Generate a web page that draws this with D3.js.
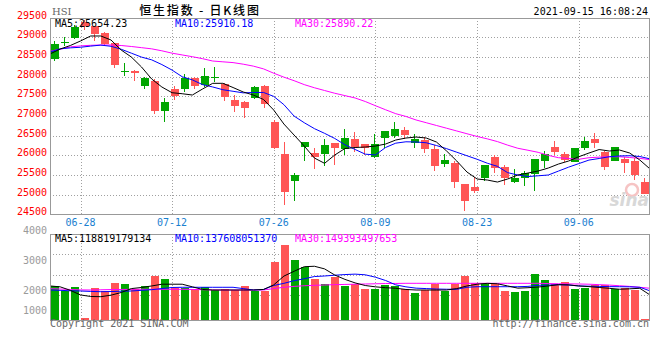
<!DOCTYPE html>
<html><head><meta charset="utf-8">
<script src="https://cdn.jsdelivr.net/npm/d3@7"></script>
<style>
body{margin:0;background:#fff}
svg{display:block}
text{font-family:"DejaVu Sans Mono",monospace;font-size:10px}
</style></head>
<body><svg id="c" width="660" height="360"></svg>
<script>
// ---------- data ----------
const dates = ["06-23","06-24","06-25","06-28","06-29","06-30","07-02","07-05","07-06","07-07","07-08","07-09","07-12","07-13","07-14","07-15","07-16","07-19","07-20","07-21","07-22","07-23","07-26","07-27","07-28","07-29","07-30","08-02","08-03","08-04","08-05","08-06","08-09","08-10","08-11","08-12","08-13","08-16","08-17","08-18","08-19","08-20","08-23","08-24","08-25","08-26","08-27","08-30","08-31","09-01","09-02","09-03","09-06","09-07","09-08","09-09","09-10","09-13","09-14","09-15"];
const open  = [28464,28885,28994,29400,29291,29106,28851,28120,28154,27764,27899,27136,27688,27688,27960,27790,27995,27808,27408,27365,27467,27764,26856,26034,25354,26220,26067,26034,26314,26161,26415,26288,25965,26449,26500,26644,26306,26390,26161,25780,25805,25270,25202,25431,25957,25703,25329,25415,25532,25863,26212,26026,25838,26194,26415,26092,25863,25907,25856,25329];
const high  = [28910,29005,29320,29450,29300,29130,28870,28342,28180,28000,27950,27451,27764,28062,28000,28215,28240,27830,27535,27383,27774,27780,26898,26347,25550,26345,26179,26415,26320,26670,26601,26295,26543,26625,26856,26721,26543,26475,26263,26026,25863,25275,25448,25760,26008,25750,25652,25609,25910,26110,26365,26077,26190,26466,26576,26110,26210,25950,25924,25431];
const low   = [28400,28770,28960,29190,28917,28800,28230,28019,27899,27688,27060,26856,27408,27604,27690,27747,27874,27383,27110,26958,27442,27197,26169,24736,24845,25863,25644,25736,25754,26008,26092,26008,25924,26179,26449,26415,26194,26051,25601,25711,25176,24591,25049,25354,25558,25245,25303,25227,25100,25685,26008,25822,25830,26136,26179,25627,25850,25558,25372,25010];
const close = [28831,28895,29273,29290,29080,28826,28299,28135,28087,27976,27136,27349,27510,27960,27764,28019,28005,27492,27263,27212,27747,27299,26194,25074,25499,26339,25965,26263,26194,26433,26220,26179,26288,26619,26670,26517,26415,26161,25728,25881,25329,24845,25100,25754,25685,25415,25431,25542,25907,26026,26092,25881,26179,26365,26322,25711,26204,25813,25499,25016];
const ma5  = [28578,28706,28795,28910,29037,29037,28935,28680,28502,28248,27942,27739,27594,27568,27535,27688,27833,27833,27726,27612,27535,27421,27153,26797,26517,26237,25932,25797,26008,26174,26199,26212,26237,26288,26390,26441,26466,26441,26339,26110,25856,25576,25398,25372,25321,25398,25499,25550,25601,25677,25779,25856,25965,26059,26148,26110,26136,26059,25881,25654];
const ma10 = [28630,28710,28735,28750,28780,28805,28775,28700,28600,28500,28430,28310,28170,28000,27920,27800,27740,27670,27630,27590,27600,27600,27500,27290,27000,26830,26680,26560,26430,26270,26150,26030,26010,26200,26310,26345,26340,26320,26250,26170,26080,25990,25900,25800,25720,25560,25500,25460,25480,25500,25600,25700,25790,25880,25920,25965,25985,25990,25970,25910];
const ma30 = [28650,28700,28760,28785,28800,28808,28808,28795,28770,28740,28710,28660,28600,28555,28510,28460,28400,28380,28360,28320,28270,28200,28090,27990,27900,27800,27720,27650,27580,27520,27460,27370,27263,27160,27060,26990,26900,26830,26760,26690,26620,26550,26480,26420,26350,26260,26180,26130,26077,26000,25940,25920,25900,25940,25955,25965,25965,25945,25924,25890];
// volume, 1e8
const volume = [1598,1383,1539,123,1507,1383,1749,1689,1447,1598,2055,1918,1507,1507,1447,1539,1415,1461,1415,1598,1383,1383,2694,3470,2785,2479,1918,1689,2009,1612,1689,1461,1461,1644,1598,1447,1278,1415,1676,1383,1689,2055,1735,1735,1689,1383,1324,1370,2146,1872,1689,1781,1461,1520,1630,1644,1461,1493,1415,91];
const vma5  = [1600,1560,1400,1190,1120,1110,1180,1300,1480,1530,1600,1680,1680,1680,1560,1440,1415,1415,1415,1415,1415,1440,1650,2050,2270,2480,2500,2380,2100,1900,1740,1620,1560,1520,1495,1440,1415,1415,1415,1415,1480,1600,1680,1720,1700,1600,1500,1520,1550,1600,1660,1650,1600,1570,1530,1493,1450,1470,1493,1188];
const vma10 = [1415,1400,1380,1370,1350,1338,1345,1360,1370,1400,1430,1480,1530,1539,1539,1539,1539,1539,1539,1480,1415,1440,1620,1720,1840,1930,2030,2055,2090,2120,2140,2110,2000,1850,1650,1560,1500,1480,1460,1450,1447,1540,1566,1566,1566,1566,1566,1580,1630,1640,1657,1640,1600,1590,1580,1570,1566,1560,1539,1376];
const vma30 = [1475,1460,1440,1420,1415,1425,1435,1440,1445,1447,1447,1447,1447,1447,1440,1430,1420,1415,1415,1415,1415,1415,1480,1540,1580,1610,1630,1644,1660,1670,1680,1690,1700,1710,1715,1721,1721,1721,1721,1721,1721,1721,1721,1721,1721,1721,1721,1721,1721,1710,1700,1695,1690,1680,1660,1640,1610,1580,1539,1494];
const priceTicks = [24500,25000,25500,26000,26500,27000,27500,28000,28500,29000,29500];
const volTicks = [1000,2000,3000,4000];
const dateTicks = ["06-28","07-12","07-26","08-09","08-23","09-06"];
const maTexts = ["MA5:25654.23","MA10:25910.18","MA30:25890.22"];
const vmaTexts = ["MA5:118819179134","MA10:137608051370","MA30:149393497653"];
const title = "恒生指数 - 日K线图";
const stamp = "2021-09-15 16:08:24";

// ---------- scales ----------
const svg = d3.select("#c");
const n = dates.length;
const xB = d3.scaleBand().domain(d3.range(n)).range([50,650]).paddingInner(0.2).paddingOuter(0.1);
const xL = d3.scaleLinear().domain([0,n-1]).range([50,650]);
const yP = d3.scaleLinear().domain([24500,29500]).range([214.3,17.8]);
const yV = d3.scaleLinear().domain([0,4000]).range([321,233.4]);
const yVG = d3.scaleLinear().domain([0,4000]).range([315.6,234]);
const yVL = d3.scaleLinear().domain([1000,2000,3000,4000]).range([314.2,293.5,264.2,234.2]);
const UP="#00a600", DN="#ff5555", GRID="#a0a0a0", BORDER="#999";
const colorOf = i => close[i] >= open[i] ? UP : DN;
const px = v => Math.round(v)+0.5;

// ---------- grids ----------
const grid = svg.append("g").attr("stroke",GRID).attr("stroke-dasharray","1,2").attr("shape-rendering","crispEdges");
grid.selectAll(".hp").data(priceTicks.slice(1,-1)).join("line")
  .attr("x1",50).attr("x2",649).attr("y1",d=>px(yP(d))).attr("y2",d=>px(yP(d)));
grid.selectAll(".hv").data([1000,2000,3000]).join("line")
  .attr("x1",50).attr("x2",649).attr("y1",d=>px(yVG(d))).attr("y2",d=>px(yVG(d)));
const tickIdx = dateTicks.map(d=>dates.indexOf(d));
grid.selectAll(".vp").data(tickIdx).join("line")
  .attr("x1",i=>px(xL(i))).attr("x2",i=>px(xL(i))).attr("y1",18).attr("y2",214);
grid.selectAll(".vv").data(tickIdx).join("line")
  .attr("x1",i=>px(xL(i))).attr("x2",i=>px(xL(i))).attr("y1",234).attr("y2",321);

// ---------- watermark ----------
const wm = svg.append("g");
wm.append("circle").attr("cx",632).attr("cy",190).attr("r",6).attr("fill","none").attr("stroke","#f6c4c4").attr("stroke-width",2.5);
wm.append("text").attr("x",649).attr("y",206).attr("text-anchor","end")
  .style("font-family","DejaVu Sans").style("font-size","17px").style("font-style","italic").style("font-weight","bold")
  .attr("fill","#d8d8d8").text("sina");

// ---------- candles ----------
const cg = svg.append("g").attr("shape-rendering","crispEdges");
cg.selectAll(".wick").data(d3.range(n)).join("line")
  .attr("x1",i=>xB(i)+3.5).attr("x2",i=>xB(i)+3.5)
  .attr("y1",i=>Math.round(yP(high[i]))).attr("y2",i=>Math.round(yP(low[i])))
  .attr("stroke",colorOf);
cg.selectAll(".body").data(d3.range(n)).join("rect")
  .attr("x",i=>xB(i)).attr("width",xB.bandwidth())
  .attr("y",i=>Math.round(yP(Math.max(open[i],close[i]))))
  .attr("height",i=>Math.max(1,Math.round(yP(Math.min(open[i],close[i])))-Math.round(yP(Math.max(open[i],close[i])))))
  .attr("fill",colorOf);

// ---------- volume bars ----------
cg.selectAll(".vol").data(d3.range(n)).join("rect")
  .attr("x",i=>xB(i)).attr("width",xB.bandwidth())
  .attr("y",i=>Math.round(yV(volume[i])))
  .attr("height",i=>Math.max(1,Math.round(yV(0))-Math.round(yV(volume[i]))))
  .attr("fill",colorOf);

// ---------- MA lines ----------
const lineP = d3.line().x((d,i)=>xL(i)).y(d=>yP(d));
const lineV = d3.line().x((d,i)=>xL(i)).y(d=>yV(d));
const maCols = ["#000000","#0000ff","#ff00ff"];
[ma30,ma10,ma5].forEach((s,k)=>svg.append("path").attr("d",lineP(s)).attr("fill","none").attr("stroke",maCols[2-k]).attr("stroke-width",1));
[vma30,vma10,vma5].forEach((s,k)=>svg.append("path").attr("d",lineV(s)).attr("fill","none").attr("stroke",maCols[2-k]).attr("stroke-width",1));

// ---------- borders ----------
const bd = svg.append("g").attr("stroke",BORDER).attr("fill","none").attr("shape-rendering","crispEdges");
bd.append("rect").attr("x",50.5).attr("y",18.5).attr("width",599).attr("height",196);
bd.append("rect").attr("x",50.5).attr("y",234.5).attr("width",599).attr("height",86);

// ---------- texts ----------
svg.selectAll(".pl").data(priceTicks).join("text")
  .attr("x",47).attr("y",d=>yP(d)+1).attr("text-anchor","end").attr("fill","#ff0000").text(d=>d);
svg.selectAll(".vl").data(volTicks).join("text")
  .attr("x",47).attr("y",d=>yVL(d)).attr("text-anchor","end").attr("fill","#9a9a9a").text(d=>d);
svg.selectAll(".dl").data(tickIdx).join("text")
  .attr("x",i=>xL(i)).attr("y",225.5).attr("text-anchor","middle").attr("fill","#1a80d0").text(i=>dates[i]);
const maX = [55,175,295];
maTexts.forEach((t,k)=>svg.append("text").attr("x",maX[k]).attr("y",26.8).attr("fill",maCols[k]).text(t));
vmaTexts.forEach((t,k)=>svg.append("text").attr("x",maX[k]).attr("y",241.8).attr("fill",maCols[k]).text(t));
svg.append("text").attr("x",52).attr("y",15).attr("fill","#666").style("font-family","DejaVu Serif").style("font-size","10px").text("HSI");
svg.append("text").attr("x",200).attr("y",15).attr("text-anchor","middle").attr("fill","#000")
  .style("font-family","'Noto Sans CJK SC'").style("font-size","12px").style("letter-spacing","1.8px").style("font-weight","500").text(title);
svg.append("text").attr("x",648).attr("y",15).attr("text-anchor","end").attr("fill","#000").text(stamp);
svg.append("text").attr("x",50).attr("y",327).attr("fill","#666").text("Copyright 2021 SINA.COM");
svg.append("text").attr("x",649).attr("y",327).attr("text-anchor","end").attr("fill","#666").text("http://finance.sina.com.cn");
</script></body></html>
